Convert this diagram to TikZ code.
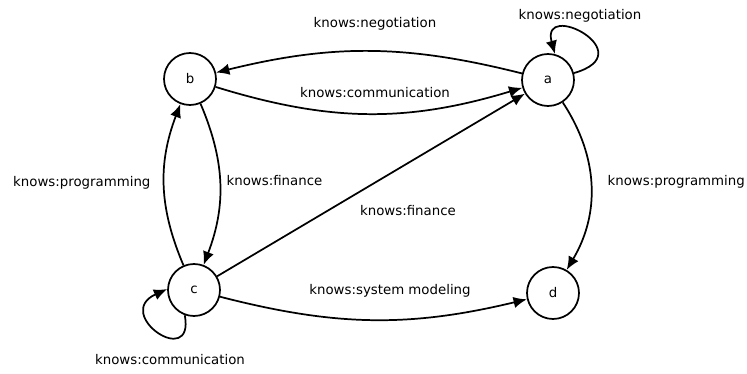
\documentclass[tikz,border=0pt]{standalone}
\usepackage{fontspec}
\setmainfont{DejaVu Sans}
\usetikzlibrary{arrows.meta}
\tikzset{state/.style={
    circle, draw, line width=1.3pt,
    minimum size=39pt, inner sep=0pt,
    font=\fontsize{10}{12}\selectfont
  },
  rel/.style={
    font=\fontsize{10}{12}\selectfont, inner sep=1pt
  },
  link/.style={
    draw, line width=1.3pt, -{Latex[length=10pt,width=8.5pt]}
  }
}
\begin{document}
\begin{tikzpicture}[x=0.75pt,y=-0.75pt]
  \useasboundingbox (0,0) rectangle (747,374);
  % states
  \node[state] (a) at (548,80) {a};
  \node[state] (b) at (190,79) {b};
  \node[state] (c) at (194,290) {c};
  \node[state] (d) at (553,293) {d};
  % labels
  \node[rel] (l-ab) at (375,24) {knows:negotiation};
  \node[rel] (l-aa) at (580,16) {knows:negotiation};
  \node[rel] (l-ba) at (375,93) {knows:communication};
  \node[rel, anchor=west] (l-ad) at (606,182) {knows:programming};
  \node[rel, anchor=west] (l-bc) at (225,181) {knows:finance};
  \node[rel, anchor=east] (l-cb) at (152,183) {knows:programming};
  \node[rel] (l-ca) at (408,211) {knows:finance};
  \node[rel] (l-cd) at (390,291) {knows:system modeling};
  \node[rel] (l-cc) at (170,360) {knows:communication};
  % relations
  \draw[link] (a) to[bend right=14] (b);
  \draw[link] (b) to[bend right=17] (a);
  \draw[link] (a.15) .. controls +(70,-20) and +(-15,-55) .. (a.75);
  \draw[link] (a) to[bend left=32] (d);
  \draw[link] (b) to[bend left=22] (c);
  \draw[link] (c) to[bend left=22] (b);
  \draw[link] (c) to (a);
  \draw[link] (c.-110) .. controls +(10,55) and +(-55,25) .. (c.178);
  \draw[link] (c) to[bend right=14] (d);
\end{tikzpicture}
\end{document}
